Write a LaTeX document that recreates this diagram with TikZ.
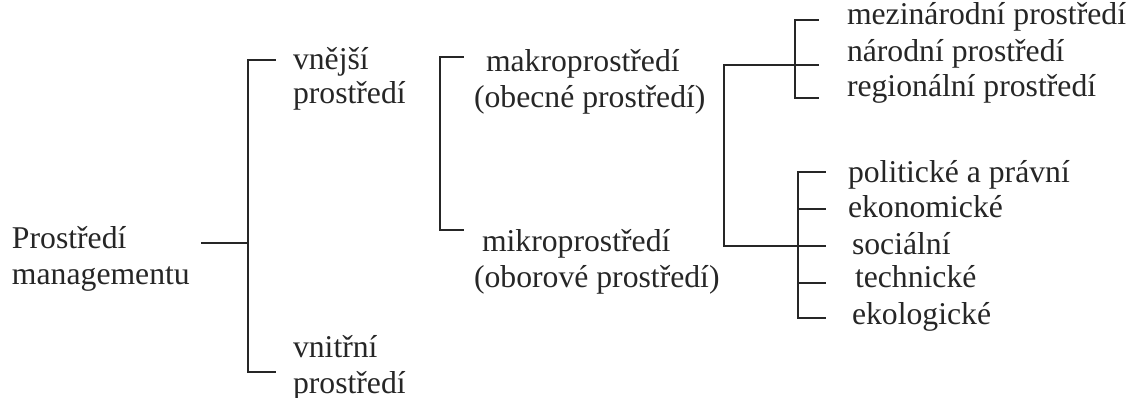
\documentclass[tikz,border=0pt]{standalone}
\usepackage{fontspec}
\setmainfont{Liberation Serif}
\begin{document}
\begin{tikzpicture}[x=1pt,y=-1pt,
  lbl/.style={anchor=base west,inner sep=0pt,outer sep=0pt,text=black!85,font=\fontsize{31.7}{36}\selectfont},
  br/.style={draw=black!85,line width=2pt,line cap=rect}]
\useasboundingbox (0,0) rectangle (1128,398);
% texts
\node[lbl] (pm1) at (12,249) {Prostředí};
\node[lbl] (pm2) at (12,285) {managementu};
\node[lbl] (ve1) at (293,70) {vnější};
\node[lbl] (ve2) at (293,104) {prostředí};
\node[lbl] (vn1) at (293,357) {vnitřní};
\node[lbl] (vn2) at (293,393) {prostředí};
\node[lbl] (ma1) at (486,72) {makroprostředí};
\node[lbl] (ma2) at (474,108) {(obecné prostředí)};
\node[lbl] (mi1) at (482,252) {mikroprostředí};
\node[lbl] (mi2) at (474,288) {(oborové prostředí)};
\node[lbl] (t1) at (847,25) {mezinárodní prostředí};
\node[lbl] (t2) at (847,62) {národní prostředí};
\node[lbl] (t3) at (847,97) {regionální prostředí};
\node[lbl] (f1) at (848,183) {politické a právní};
\node[lbl] (f2) at (848,218) {ekonomické};
\node[lbl] (f3) at (852,255) {sociální};
\node[lbl] (f4) at (855,288) {technické};
\node[lbl] (f5) at (852,325) {ekologické};
% bracket coordinates
\coordinate (a0) at (202,243);
\coordinate (a1) at (248,243);
\coordinate (aT) at (248,60);
\coordinate (aB) at (248,372);
\coordinate (aTe) at (275,60);
\coordinate (aBe) at (275,372);
\coordinate (bT) at (440,57);
\coordinate (bB) at (440,230);
\coordinate (bTe) at (463,57);
\coordinate (bBe) at (463,230);
\coordinate (cT) at (724,65);
\coordinate (cB) at (724,246);
\coordinate (cTe) at (818,65);
\coordinate (cBe) at (825,246);
\coordinate (dT) at (795,20);
\coordinate (dB) at (795,98);
\coordinate (dTe) at (818,20);
\coordinate (dBe) at (818,98);
\coordinate (eT) at (798,172);
\coordinate (eB) at (798,318);
\coordinate (e1) at (825,172);
\coordinate (e2) at (825,209);
\coordinate (e4) at (825,283);
\coordinate (e5) at (825,318);
% brackets
\draw[br] (a0) -- (a1);
\draw[br] (aTe) -- (aT) -- (aB) -- (aBe);
\draw[br] (bTe) -- (bT) -- (bB) -- (bBe);
\draw[br] (cTe) -- (cT) -- (cB) -- (cBe);
\draw[br] (dTe) -- (dT) -- (dB) -- (dBe);
\draw[br] (e1) -- (eT) -- (eB) -- (e5);
\draw[br] (eT |- e2) -- (e2);
\draw[br] (eT |- e4) -- (e4);
\end{tikzpicture}
\end{document}
